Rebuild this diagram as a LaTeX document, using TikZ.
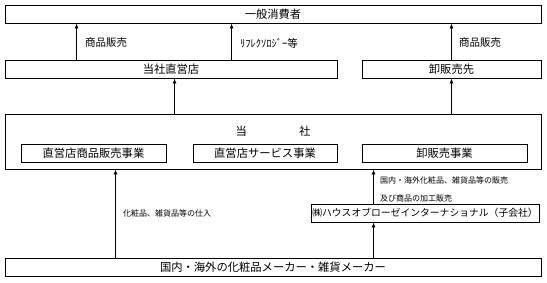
\documentclass[tikz,border=0pt]{standalone}
\usepackage{fontspec}
\setmainfont{Noto Sans CJK JP}
\usetikzlibrary{arrows.meta, positioning, calc}
\tikzset{
  box/.style={draw, line width=0.9pt, inner sep=0pt, minimum height=18pt, font=\fontsize{11.3}{13}\selectfont},
  arrow/.style={-{Latex[length=5pt,width=4pt]}, line width=0.8pt},
  note/.style={anchor=west, inner sep=0pt, font=\fontsize{10.5}{12}\selectfont},
  smallnote/.style={anchor=west, inner sep=0pt, font=\fontsize{8}{10}\selectfont}
}

\begin{document}
\begin{tikzpicture}[x=1pt, y=-1pt]
    \useasboundingbox (0,0) rectangle (547,282);
    % customers and sales channels
    \node[box, minimum width=536pt] (consumer) at (273,14) {一般消費者};
    \node[box, minimum width=332pt] (shop) at (171,69) {当社直営店};
    \node[box, minimum width=179pt] (dealer) at (451.5,69) {卸販売先};
    % the company and its businesses
    \node[box, minimum width=536pt, minimum height=55pt] (company) at (273,141.5) {};
    \node[below=12pt of company.north, inner sep=0pt, font=\fontsize{11.3}{13}\selectfont] (companyname) {当\hspace{52pt}社};
    \node[box, minimum width=145pt] (retail) at (93.5,153) {直営店商品販売事業};
    \node[box, minimum width=144pt] (service) at (265,153) {直営店サービス事業};
    \node[box, minimum width=165pt] (wholesale) at (444.5,153) {卸販売事業};
    % suppliers
    \node[box, minimum width=228pt, font=\fontsize{9.8}{12}\selectfont] (sub) at (425,213) {㈱ハウスオブローゼインターナショナル（子会社）};
    \node[box, minimum width=536pt] (maker) at (273,267) {国内・海外の化粧品メーカー・雑貨メーカー};
    % flows
    \draw[arrow] ([xshift=72pt]shop.north west) -- ([xshift=72pt]shop.north west |- consumer.south);
    \draw[arrow] ([xshift=227pt]shop.north west) -- ([xshift=227pt]shop.north west |- consumer.south);
    \draw[arrow] (dealer.north) -- (dealer.north |- consumer.south);
    \draw[arrow] ([xshift=170pt]company.north west) -- ([xshift=170pt]company.north west |- shop.south);
    \draw[arrow] (company.north -| dealer) -- (dealer.south);
    \draw[arrow] ([xshift=111pt]maker.north west) -- ([xshift=111pt]maker.north west |- company.south);
    \draw[arrow] ([xshift=63pt]sub.south west |- maker.north) -- ([xshift=63pt]sub.south west);
    \draw[arrow] ([xshift=63pt]sub.north west) -- ([xshift=63pt]sub.north west |- company.south);
    \node[note] (salesleft) at (85,43) {商品販売};
    \node[note] (reflexo) at (240,43) {ﾘﾌﾚｸｿﾛｼﾞｰ等};
    \node[note] (salesright) at (459,43) {商品販売};
    \node[smallnote] (purchase) at (123,213) {化粧品、雑貨品等の仕入};
    \node[smallnote] (subsales) at (380,180) {国内・海外化粧品、雑貨品等の販売};
    \node[smallnote] (subprocess) at (380,198) {及び商品の加工販売};
\end{tikzpicture}
\end{document}
